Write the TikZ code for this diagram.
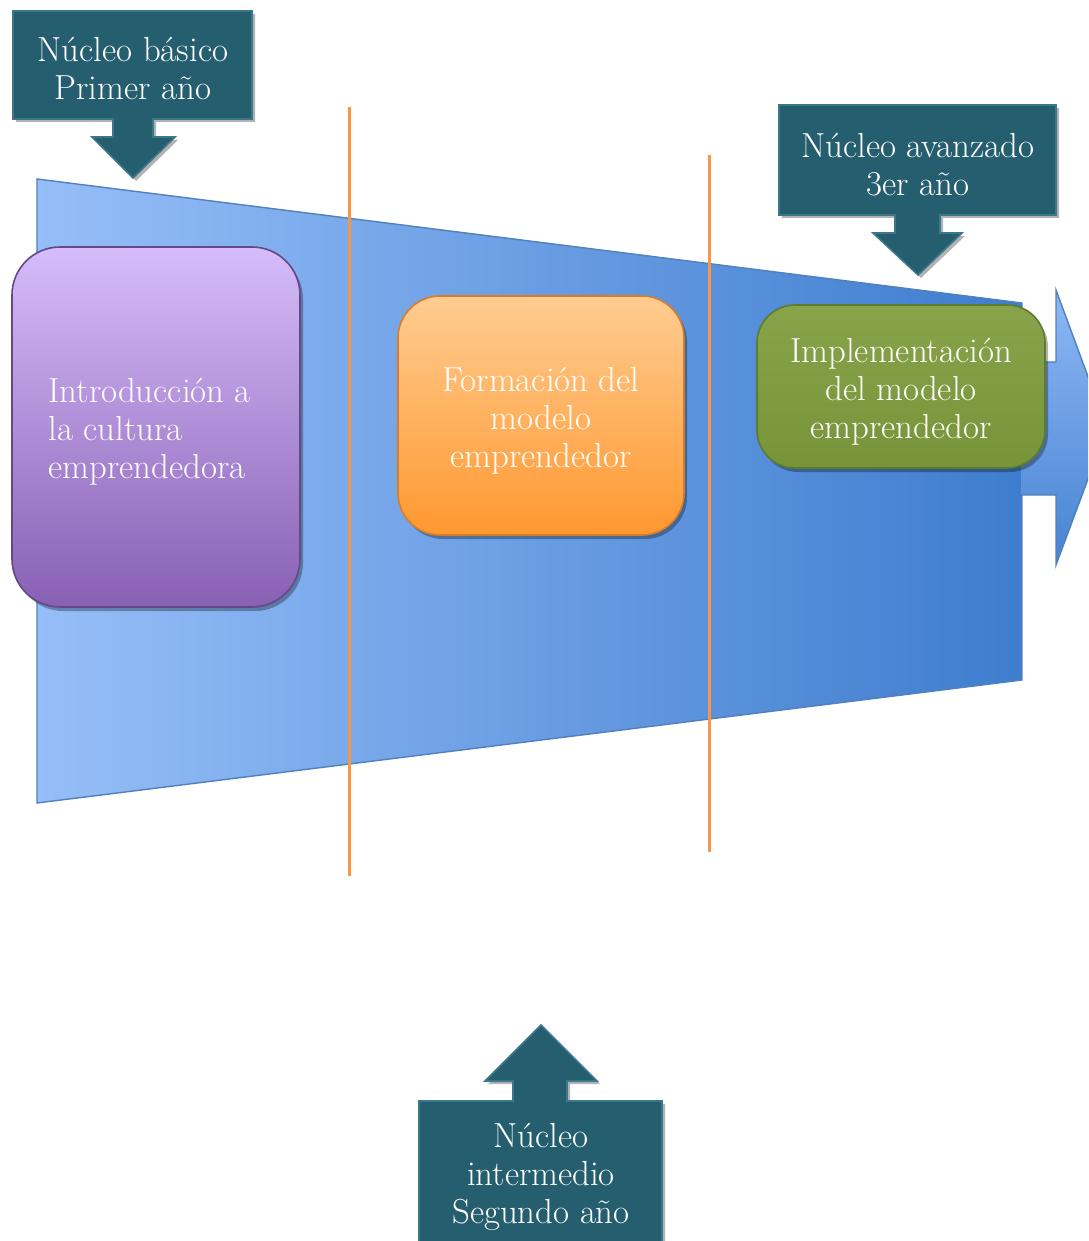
\documentclass[tikz,border=0pt]{standalone}
\usetikzlibrary{shadows}
\definecolor{calloutfill}{RGB}{37,94,110}
\definecolor{calloutedge}{RGB}{60,120,140}
\definecolor{bandleft}{RGB}{150,190,248}
\definecolor{bandright}{RGB}{62,125,206}
\definecolor{bandedge}{RGB}{79,129,189}
\definecolor{vline}{RGB}{247,150,70}
\definecolor{purpletop}{RGB}{214,188,250}
\definecolor{purplebot}{RGB}{136,96,180}
\definecolor{purpleedge}{RGB}{100,72,135}
\definecolor{orangetop}{RGB}{255,204,145}
\definecolor{orangebot}{RGB}{255,152,48}
\definecolor{orangeedge}{RGB}{215,125,40}
\definecolor{greentop}{RGB}{136,164,74}
\definecolor{greenbot}{RGB}{120,148,58}
\definecolor{greenedge}{RGB}{96,122,44}
\begin{document}
\begin{tikzpicture}[x=0.5pt,y=-0.5pt,
  callout/.style={fill=calloutfill, draw=calloutedge, line width=0.8pt,
    drop shadow={opacity=0.3,shadow xshift=1.5pt,shadow yshift=-1.5pt,fill=black}},
  lbl/.style={text=white, font=\fontsize{17.4}{19}\selectfont, align=center, inner sep=0pt},
  boxshadow/.style={drop shadow={opacity=0.3,shadow xshift=1.5pt,shadow yshift=-2pt,fill=black}},
  divider/.style={draw=vline, line width=1.5pt}]
\clip (0,0) rectangle (1088,1241);
\fill[white] (0,0) rectangle (1088,1241);
% band (trapezoid)
\shade[left color=bandleft, right color=bandright]
  (37,179) -- (1022,303) -- (1022,680) -- (37,803) -- cycle;
% arrow head part
\shade[top color=bandleft!90!bandright, bottom color=bandright!90!bandleft]
  (1021,362) -- (1056,362) -- (1056,290) -- (1107,428) -- (1056,565) -- (1056,495) -- (1021,495) -- cycle;
\draw[bandedge, line width=0.7pt]
  (37,179) -- (1022,303) -- (1022,362) -- (1056,362) -- (1056,290) -- (1107,428)
  -- (1056,565) -- (1056,495) -- (1022,495) -- (1022,680) -- (37,803) -- cycle;
% dividers
\coordinate (d1t) at (349,107); \coordinate (d1b) at (349,876);
\coordinate (d2t) at (709,155); \coordinate (d2b) at (709,852);
\draw[divider] (d1t) -- (d1b);
\draw[divider] (d2t) -- (d2b);
% purple box
\shade[top color=purpletop, bottom color=purplebot, draw=purpleedge, line width=0.8pt,
  rounded corners=24pt, boxshadow] (12,247) rectangle (300,607);
\node[lbl, align=left, anchor=west] (intro) at (48,432)
  {Introducción a\\la cultura\\emprendedora};
% orange box
\shade[top color=orangetop, bottom color=orangebot, draw=orangeedge, line width=0.8pt,
  rounded corners=21pt, boxshadow] (398,296) rectangle (684,535);
\node[lbl] (formacion) at (541,421) {Formación del\\modelo\\emprendedor};
% green box
\shade[top color=greentop, bottom color=greenbot, draw=greenedge, line width=0.8pt,
  rounded corners=19pt, boxshadow] (757,305) rectangle (1045,468);
\node[lbl] (implementacion) at (901,392) {Implementación\\del modelo\\emprendedor};
% callout 1
\path[callout] (13,11) -- (252,11) -- (252,119) -- (153,119) -- (153,137) -- (175,137)
  -- (133,178) -- (92,137) -- (113,137) -- (113,119) -- (13,119) -- cycle;
\node[lbl] (basico) at (133,69) {Núcleo básico\\Primer año};
% callout 2
\path[callout] (779,105) -- (1056,105) -- (1056,215) -- (940,215) -- (940,233) -- (962,233)
  -- (918,275) -- (873,233) -- (895,233) -- (895,215) -- (779,215) -- cycle;
\node[lbl] (avanzado) at (918,165) {Núcleo avanzado\\3er año};
% callout 3
\path[callout] (419,1101) -- (513,1101) -- (513,1081) -- (485,1081) -- (541,1025)
  -- (597,1081) -- (567,1081) -- (567,1101) -- (662,1101) -- (662,1260) -- (419,1260) -- cycle;
\node[lbl] (intermedio) at (541,1177) {Núcleo\\intermedio\\Segundo año};
\end{tikzpicture}
\end{document}
